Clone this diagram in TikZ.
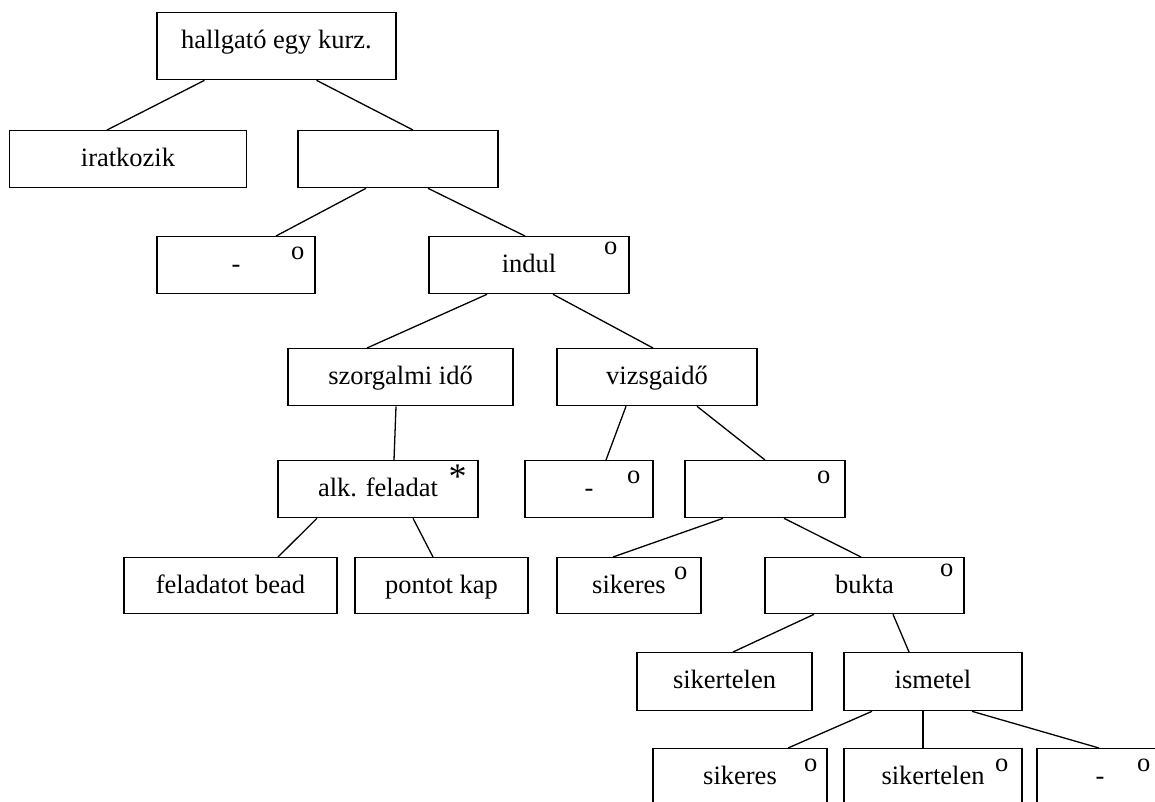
\documentclass[tikz,border=0pt]{standalone}
\usepackage{fontspec}
\setmainfont{Liberation Serif}

\begin{document}
\begin{tikzpicture}[x=1pt,y=-1pt,
    every node/.style={font=\fontsize{26.5}{30}\selectfont},
    box/.style={draw, line width=1.3pt, anchor=north, inner sep=0pt,
        text height=36pt, text depth=21pt},
    tag/.style={anchor=base, inner sep=0pt},
    edge/.style={line width=1.3pt}]

\useasboundingbox (0,0) rectangle (1155,801);

% Boxes
\node[box, minimum width=239pt, text depth=31pt] (root) at (276.5,12) {hallgató egy kurz.};
\node[box, minimum width=237pt] (irat) at (128,130) {iratkozik};
\node[box, minimum width=200pt] (mid) at (398,130) {};
\node[box, minimum width=158pt] (none) at (236,236) {-};
\node[box, minimum width=200pt] (indul) at (529,236) {indul};
\node[box, minimum width=225pt] (szorg) at (400.5,348) {szorgalmi idő};
\node[box, minimum width=200pt] (vizsga) at (657,348) {vizsgaidő};
\node[box, minimum width=200pt] (alk) at (378,460) {alk. feladat};
\node[box, minimum width=128pt] (vnone) at (589,460) {-};
\node[box, minimum width=160pt] (vmid) at (765,460) {};
\node[box, minimum width=213pt, text depth=20pt] (bead) at (230.5,557) {feladatot bead};
\node[box, minimum width=173pt, text depth=20pt] (pont) at (441.5,557) {pontot kap};
\node[box, minimum width=144pt, text depth=20pt] (siker) at (629,557) {sikeres};
\node[box, minimum width=199pt, text depth=20pt] (bukta) at (864.5,557) {bukta};
\node[box, minimum width=175pt, text depth=22pt] (sikertel) at (724.5,652) {sikertelen};
\node[box, minimum width=178pt, text depth=22pt] (ism) at (933,652) {ismetel};
\node[box, minimum width=174pt] (isiker) at (740,748) {sikeres};
\node[box, minimum width=178pt] (isikertel) at (933,748) {sikertelen};
\node[box, minimum width=126pt] (inone) at (1100,748) {-};

% Marks
\node[tag] at ([xshift=-18pt,yshift=-23pt]none.north east) {o};
\node[tag] at ([xshift=-19pt,yshift=-18pt]indul.north east) {o};
\node[tag, font=\fontsize{36}{40}\selectfont] at ([xshift=-21pt,yshift=-28.5pt]alk.north east) {*};
\node[tag] at ([xshift=-20pt,yshift=-23pt]vnone.north east) {o};
\node[tag] at ([xshift=-22pt,yshift=-23pt]vmid.north east) {o};
\node[tag] at ([xshift=-21pt,yshift=-22pt]siker.north east) {o};
\node[tag] at ([xshift=-18pt,yshift=-19pt]bukta.north east) {o};
\node[tag] at ([xshift=-17pt,yshift=-23pt]isiker.north east) {o};
\node[tag] at ([xshift=-21pt,yshift=-23pt]isikertel.north east) {o};
\node[tag] at ([xshift=-20pt,yshift=-23pt]inone.north east) {o};

% Connectors
\draw[edge] ([xshift=-72pt]root.south) -- ([xshift=-21pt]irat.north);
\draw[edge] ([xshift=40pt]root.south) -- ([xshift=15pt]mid.north);
\draw[edge] ([xshift=-32pt]mid.south) -- ([xshift=40pt]none.north);
\draw[edge] ([xshift=30pt]mid.south) -- ([xshift=-4pt]indul.north);
\draw[edge] ([xshift=-42pt]indul.south) -- ([xshift=-33.5pt]szorg.north);
\draw[edge] ([xshift=24pt]indul.south) -- ([xshift=-4pt]vizsga.north);
\draw[edge] ([xshift=-4.5pt]szorg.south) -- ([xshift=16pt]alk.north);
\draw[edge] ([xshift=-31pt]vizsga.south) -- ([xshift=17pt]vnone.north);
\draw[edge] ([xshift=40pt]vizsga.south) -- (vmid.north);
\draw[edge] ([xshift=-61pt]alk.south) -- ([xshift=47.5pt]bead.north);
\draw[edge] ([xshift=35pt]alk.south) -- ([xshift=-8.5pt]pont.north);
\draw[edge] ([xshift=-42pt]vmid.south) -- ([xshift=-16pt]siker.north);
\draw[edge] ([xshift=19pt]vmid.south) -- ([xshift=-3.5pt]bukta.north);
\draw[edge] ([xshift=-50.5pt]bukta.south) -- ([xshift=8.5pt]sikertel.north);
\draw[edge] ([xshift=28.5pt]bukta.south) -- ([xshift=-24pt]ism.north);
\draw[edge] ([xshift=-61pt]ism.south) -- ([xshift=48pt]isiker.north);
\draw[edge] ([xshift=-10pt]ism.south) -- ([xshift=-10pt]isikertel.north);
\draw[edge] ([xshift=39pt]ism.south) -- ([xshift=-1pt]inone.north);

\end{tikzpicture}
\end{document}
